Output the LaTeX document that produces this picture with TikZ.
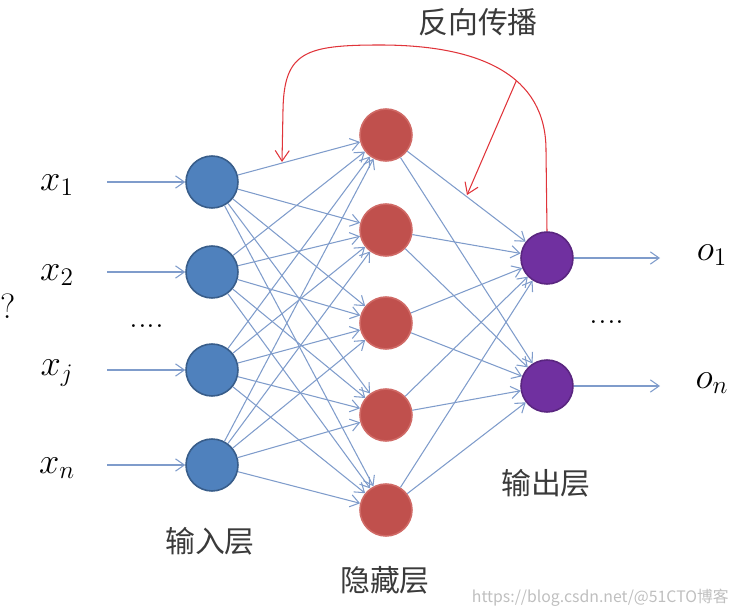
\documentclass[tikz,border=0pt]{standalone}
\usepackage{amsmath}
\usepackage{fontspec}
\newfontfamily\cjk{Noto Sans CJK SC}
\usetikzlibrary{arrows.meta}

\definecolor{inblue}{HTML}{4F81BD}
\definecolor{inedge}{HTML}{385D8A}
\definecolor{hidred}{HTML}{C0504D}
\definecolor{hidedge}{HTML}{D06A66}
\definecolor{outpurple}{HTML}{7030A0}
\definecolor{linkblue}{HTML}{7F9CCB}
\definecolor{backred}{HTML}{E0343A}
\definecolor{labelgray}{HTML}{3A3A3A}

\tikzset{
  neuron/.style={circle, minimum size=1.04cm, inner sep=0pt, line width=0.9pt},
  innode/.style={neuron, fill=inblue, draw=inedge},
  hidnode/.style={neuron, fill=hidred, draw=hidedge},
  outnode/.style={neuron, fill=outpurple, draw=outpurple!80!black},
  link/.style={draw=linkblue, line width=0.6pt, -{Straight Barb[length=5pt,width=7pt]}},
  backlink/.style={draw=backred, line width=0.6pt, -{Straight Barb[length=6pt,width=8pt]}},
  varlabel/.style={font=\fontsize{20}{24}\selectfont},
  layerlabel/.style={font=\cjk\fontsize{17}{20}\selectfont, text=labelgray}
}

\begin{document}
\begin{tikzpicture}[x=0.02cm,y=-0.02cm]

\useasboundingbox (0,0) rectangle (738,615);

% Input layer
\foreach \i/\y/\lab in {1/182/x_1,2/272/x_2,3/370/x_j,4/465/x_n}
{
\node[innode] (i\i) at (212,\y) {};
\coordinate (s\i) at (107,\y);
\node[varlabel] (xl\i) at (57,\y+3) {$\lab$};
\draw[link] (s\i) -- (i\i);
}
\node[varlabel] (idots) at (147,326) {....};

% Hidden layer
\foreach \j/\y in {1/135,2/230,3/323,4/415,5/510}
{
\node[hidnode] (h\j) at (386,\y) {};
}

% Output layer
\foreach \k/\y/\lab in {1/258/o_1,2/386/o_n}
{
\node[outnode] (o\k) at (547,\y) {};
\coordinate (e\k) at (660,\y);
\node[varlabel] (ol\k) at (712,\y-3) {$\lab$};
\draw[link] (o\k) -- (e\k);
}
\node[varlabel] (odots) at (607,322) {....};

% Weights
\foreach \i in {1,...,4}
{
\foreach \j in {1,...,5}
{
\draw[link] (i\i) -- (h\j);
}
}
\foreach \j in {1,...,5}
{
\foreach \k in {1,2}
{
\draw[link] (h\j) -- (o\k);
}
}

% Back propagation
\coordinate (bt1) at (282,162);
\coordinate (bt2) at (467,195);
\draw[backlink] (o1.north) -- (546,150)
  .. controls (546,75) and (480,45) .. coordinate[pos=0.4] (bp) (380,45)
  .. controls (305,45) and (284,52) .. (283,110) -- (bt1);
\draw[backlink] (bp) -- (bt2);

% Labels
\node[layerlabel] (back) at (478,22) {反向传播};
\node[layerlabel] (inlab) at (210,541) {输入层};
\node[layerlabel] (hidlab) at (385,580) {隐藏层};
\node[layerlabel] (outlab) at (546,483) {输出层};
\node[varlabel, anchor=west, inner sep=0pt] (qm) at (0,306) {?};
\node[font=\cjk\fontsize{9}{11}\selectfont, text=black!25, anchor=east, inner sep=0pt] (wm) at (729,598) {https://blog.csdn.net/@51CTO博客};

\end{tikzpicture}
\end{document}
